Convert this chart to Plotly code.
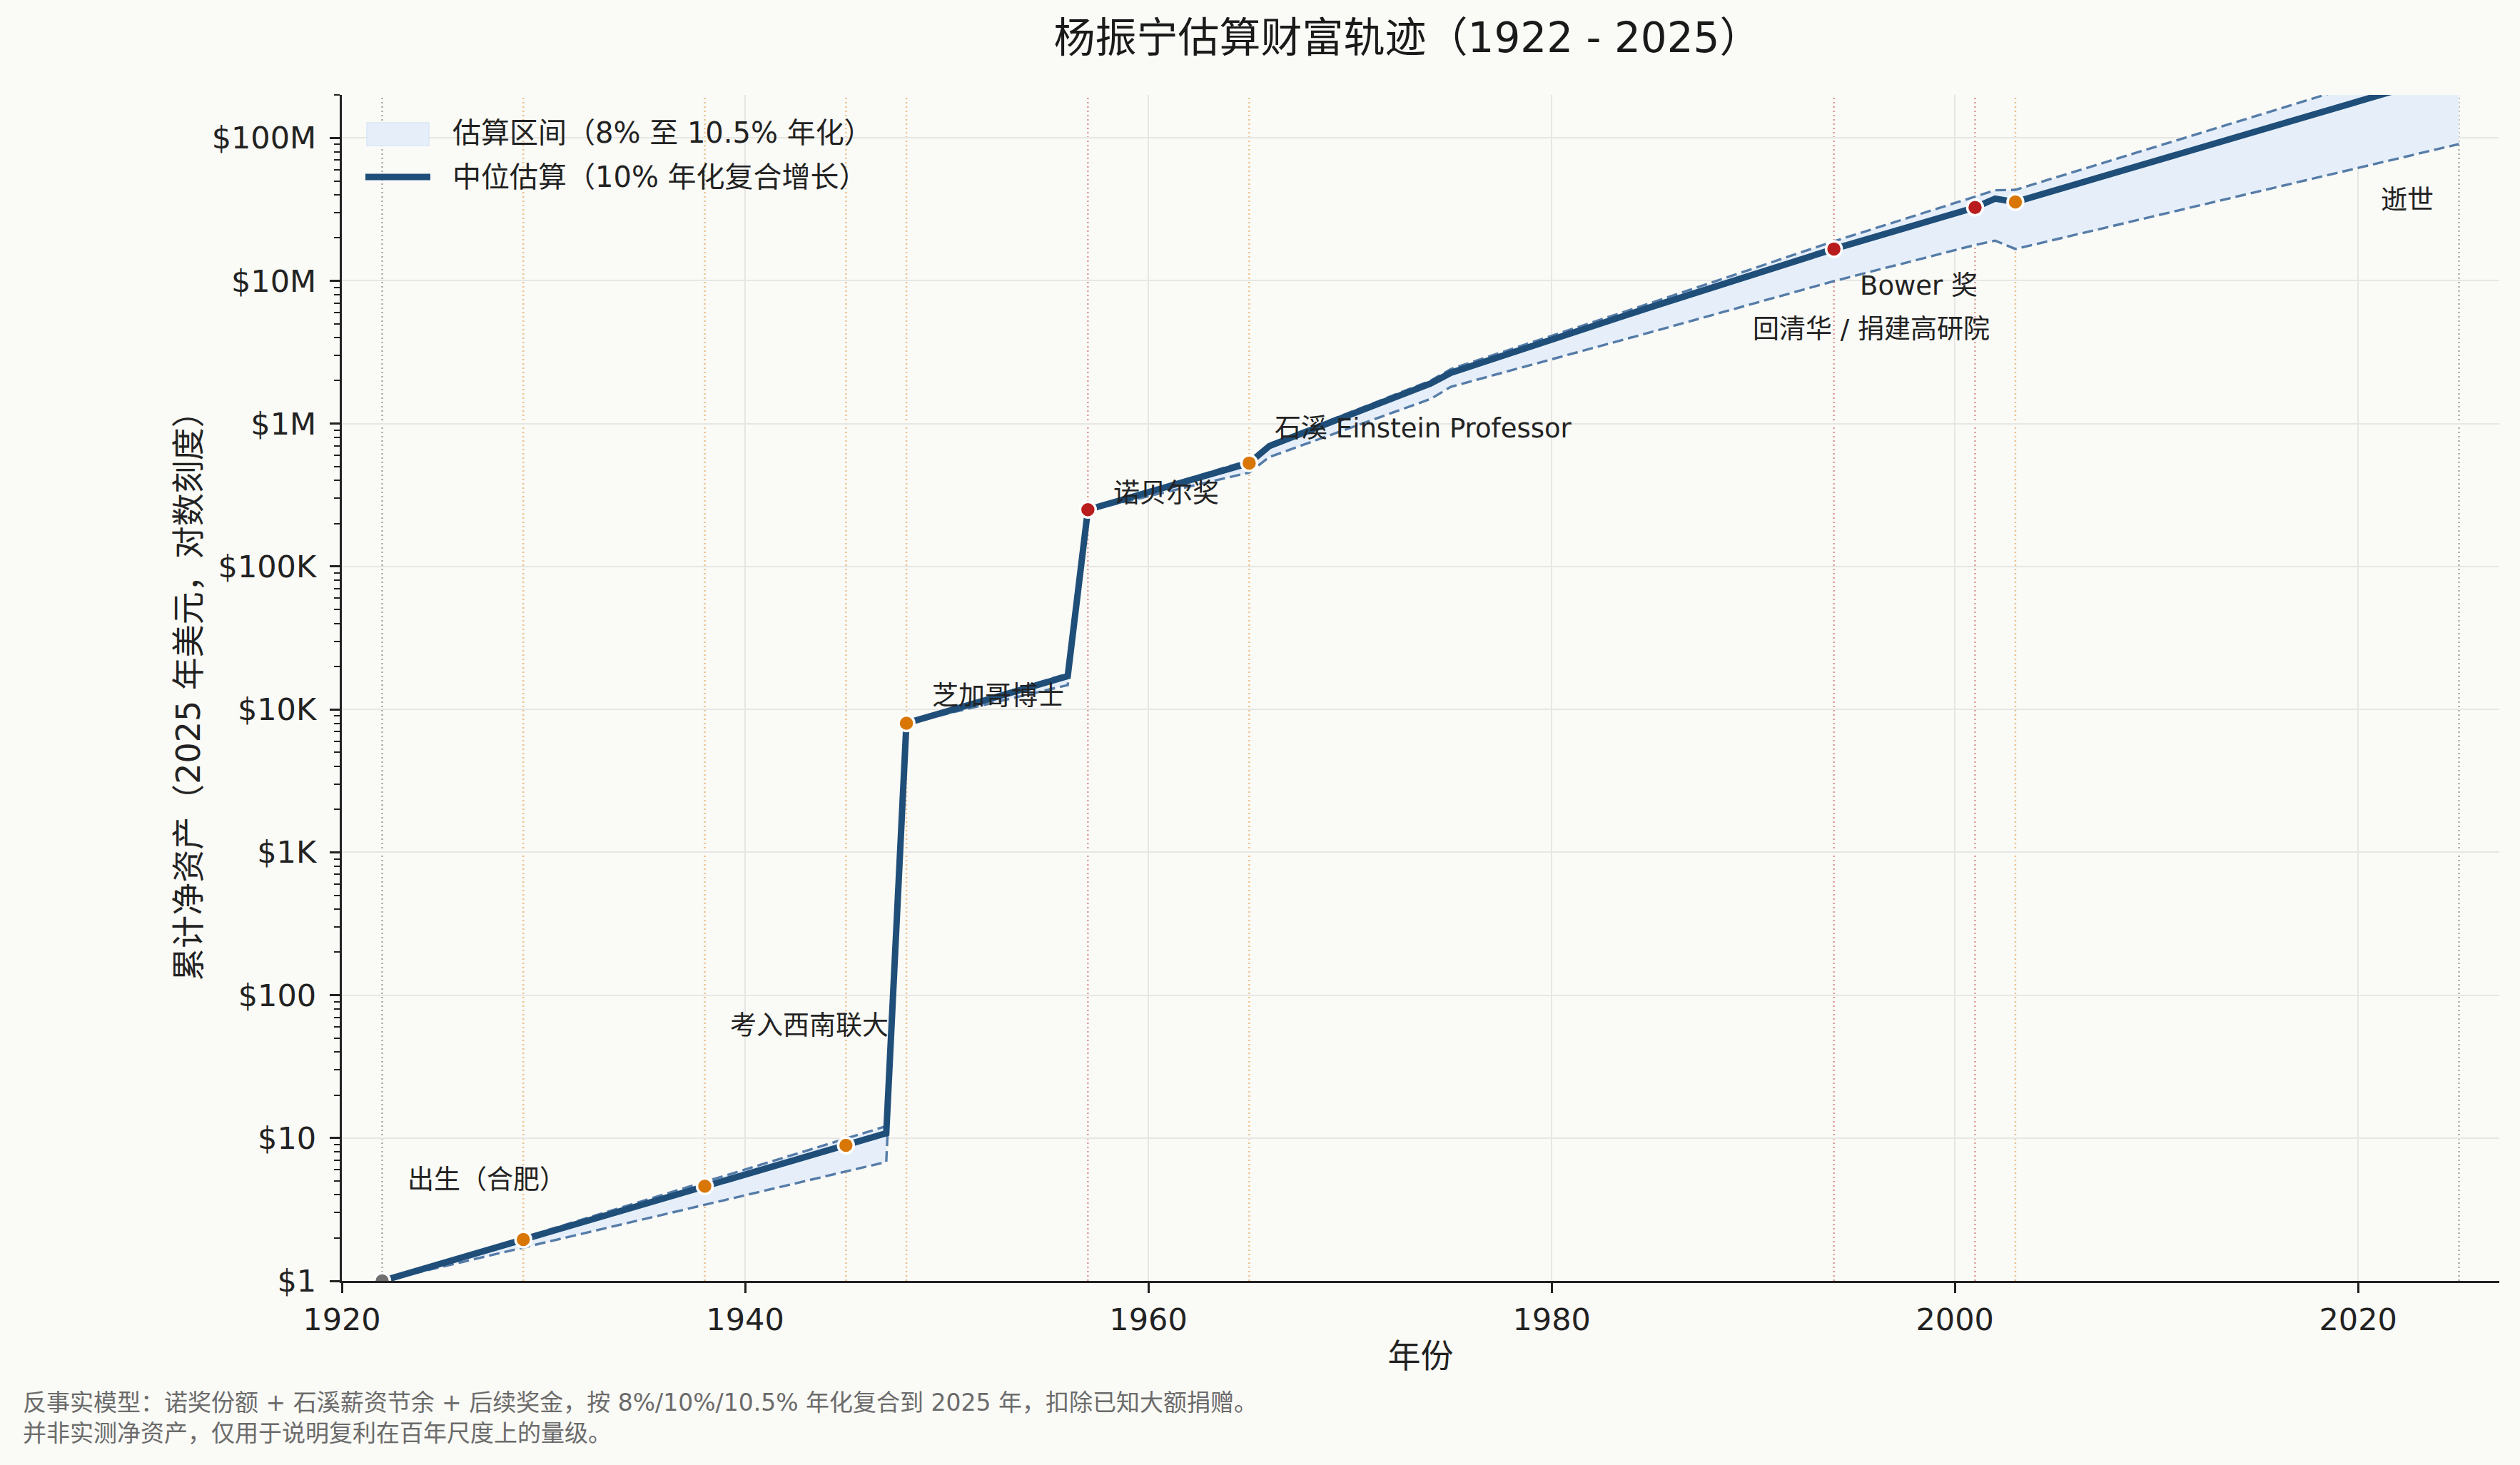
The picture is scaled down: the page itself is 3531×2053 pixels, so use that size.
import numpy as np
import plotly.graph_objects as go

# ---------------- data ----------------
years = [1922, 1947, 1948, 1956, 1957, 1965, 1966, 1974, 1975, 1985, 1994, 2001, 2002, 2003, 2025]
median = [1, 10.8, 8000, 17100, 250000, 530000, 697000, 1.91e6, 2.27e6, 6.6e6,
          16.7e6, 32.6e6, 37.6e6, 35.6e6, 290e6]
upper = [1, 12.1, 8050, 17800, 251000, 555000, 720000, 2.0e6, 2.41e6, 7.05e6,
         18.9e6, 38.5e6, 43.0e6, 43.3e6, 389e6]
lower = [1, 6.8, 7990, 14800, 247000, 455000, 584000, 1.49e6, 1.81e6, 4.4e6,
         9.95e6, 17.8e6, 19.1e6, 16.7e6, 90.6e6]

event_years = [1922, 1929, 1938, 1945, 1948, 1957, 1965, 1994, 2001, 2003, 2025]
event_kinds = ["life", "career", "career", "career", "career", "award",
               "career", "award", "award", "career", "life"]

marker_years = [1922, 1929, 1938, 1945, 1948, 1957, 1965, 1994, 2001, 2003]
marker_values = [1, 1.95, 4.6, 8.9, 8000, 250000, 530000, 16.7e6, 32.6e6, 35.6e6]
marker_kinds = ["life", "career", "career", "career", "career", "award",
                "career", "award", "award", "career"]

label_texts = ["出生（合肥）", "考入西南联大", "芝加哥博士", "诺贝尔奖",
               "石溪 Einstein Professor", "Bower 奖", "回清华 / 捐建高研院", "逝世"]
label_years = [1923.2, 1939.2, 1949.2, 1958.2, 1966.2, 1995.2, 2001.8, 2023.8]
label_values = [5.1, 61, 12400, 325000, 925000, 9.2e6, 4.6e6, 36.6e6]
label_sides = ["left", "left", "left", "left", "left", "left", "right", "right"]

y_tick_values = [1, 10, 100, 1e3, 1e4, 1e5, 1e6, 1e7, 1e8]
y_tick_labels = ["$1", "$10", "$100", "$1K", "$10K", "$100K", "$1M", "$10M", "$100M"]
x_tick_values = [1920, 1940, 1960, 1980, 2000, 2020]

title_text = "杨振宁估算财富轨迹（1922 - 2025）"
x_title = "年份"
y_title = "累计净资产（2025 年美元，对数刻度）"
band_name = "估算区间（8% 至 10.5% 年化）"
median_name = "中位估算（10% 年化复合增长）"
foot_1 = "反事实模型：诺奖份额 + 石溪薪资节余 + 后续奖金，按 8%/10%/10.5% 年化复合到 2025 年，扣除已知大额捐赠。"
foot_2 = "并非实测净资产，仅用于说明复利在百年尺度上的量级。"

# ---------------- styling ----------------
FONT = "DejaVu Sans, Noto Sans CJK SC"
BG = "#fafaf6"
INK = "#222222"
NAVY = "#1f4e79"
DASH_C = "#557ca8"
BAND_C = "#e6eff9"
kind_marker = {"life": "#707070", "career": "#d97706", "award": "#b91c1c"}
kind_vline = {"life": "rgba(110,110,110,0.6)",
              "career": "rgba(217,119,6,0.45)",
              "award": "rgba(185,28,28,0.45)"}

W, H = 3531, 2053
ML, MR, MT, MB = 479, 29, 133, 258
plot_h = H - MT - MB
plot_w = W - ML - MR


def px_x(p):
    return (p - ML) / plot_w


def px_y(p):
    return (H - MB - p) / plot_h


fig = go.Figure()

# band polygon
fig.add_trace(go.Scatter(
    x=years + years[::-1], y=upper + lower[::-1],
    fill="toself", fillcolor=BAND_C, line=dict(width=0, color=BAND_C),
    mode="lines", name=band_name, hoverinfo="skip", showlegend=False,
))
# dashed bounds
for arr in (upper, lower):
    fig.add_trace(go.Scatter(
        x=years, y=arr, mode="lines",
        line=dict(color=DASH_C, width=3.4, dash="15px,7px"),
        showlegend=False, hoverinfo="skip",
    ))
# median line
fig.add_trace(go.Scatter(
    x=years, y=median, mode="lines",
    line=dict(color=NAVY, width=9),
    name=median_name, showlegend=False,
))
# event markers
fig.add_trace(go.Scatter(
    x=marker_years, y=marker_values, mode="markers",
    marker=dict(size=22, color=[kind_marker[k] for k in marker_kinds],
                line=dict(color="white", width=3.5)),
    showlegend=False, cliponaxis=True,
))

# vertical event lines
for yr, k in zip(event_years, event_kinds):
    fig.add_shape(type="line", xref="x", yref="paper", x0=yr, x1=yr, y0=0, y1=1,
                  line=dict(color=kind_vline[k], width=2.4, dash="2px,4px"),
                  layer="between")

# event labels
for t, xv, yv, side in zip(label_texts, label_years, label_values, label_sides):
    fig.add_annotation(x=xv, y=np.log10(yv), xref="x", yref="y", text=t,
                       showarrow=False, xanchor=side, yanchor="middle",
                       font=dict(family=FONT, size=37, color=INK))

# legend (drawn by hand to match the large patch / line samples)
fig.add_shape(type="rect", xref="paper", yref="paper",
              x0=px_x(514), x1=px_x(601), y0=px_y(204), y1=px_y(172),
              fillcolor=BAND_C, line=dict(color="#d9e6f6", width=1.5), layer="above")
fig.add_shape(type="line", xref="paper", yref="paper",
              x0=px_x(512), x1=px_x(603), y0=px_y(248), y1=px_y(248),
              line=dict(color=NAVY, width=9), layer="above")
for txt, yc in ((band_name, 186), (median_name, 248)):
    fig.add_annotation(x=px_x(632), y=px_y(yc), xref="paper", yref="paper",
                       text=txt, showarrow=False, xanchor="left", yanchor="middle",
                       font=dict(family=FONT, size=40, color=INK))

# footnotes
for txt, yc in ((foot_1, 1965), (foot_2, 2008)):
    fig.add_annotation(x=px_x(30), y=px_y(yc),
                       xref="paper", yref="paper", text=txt, showarrow=False,
                       xanchor="left", yanchor="middle", align="left",
                       font=dict(family=FONT, size=33, color="#6b6b6b"))

fig.update_layout(
    width=W, height=H,
    margin=dict(l=ML, r=MR, t=MT, b=MB, autoexpand=False),
    paper_bgcolor=BG, plot_bgcolor=BG,
    font=dict(family=FONT, color=INK),
    title=dict(text=title_text, x=1972 / W, xref="container", xanchor="center",
               y=1 - 53 / H, yref="container", yanchor="middle",
               font=dict(family=FONT, size=58, color="#1a1a1a")),
    showlegend=False,
)

fig.update_xaxes(
    range=[1920, 2027], tickmode="array", tickvals=x_tick_values,
    showgrid=True, gridcolor="#e6e6e4", gridwidth=2.4,
    showline=True, linecolor=INK, linewidth=3.4, mirror=False,
    ticks="outside", ticklen=14, tickwidth=3.2, tickcolor=INK,
    tickfont=dict(family=FONT, size=43, color=INK),
    zeroline=False,
    title=dict(text=x_title, font=dict(family=FONT, size=46, color=INK), standoff=12),
)
fig.update_yaxes(
    type="log", range=[0, np.log10(2.0e8)],
    tickmode="array", tickvals=y_tick_values, ticktext=y_tick_labels,
    showgrid=True, gridcolor="#e6e6e4", gridwidth=2.4,
    showline=True, linecolor=INK, linewidth=3.4, mirror=False,
    ticks="outside", ticklen=14, tickwidth=3.2, tickcolor=INK,
    ticklabelstandoff=10,
    minor=dict(ticks="outside", ticklen=8, tickwidth=2.4, tickcolor=INK,
               dtick="D1", showgrid=False),
    tickfont=dict(family=FONT, size=43, color=INK),
    zeroline=False,
    title=dict(text=y_title, font=dict(family=FONT, size=46, color=INK), standoff=2),
)

fig.write_html("out.html", config={"displayModeBar": False},
               post_script="document.body.style.margin='0';")
